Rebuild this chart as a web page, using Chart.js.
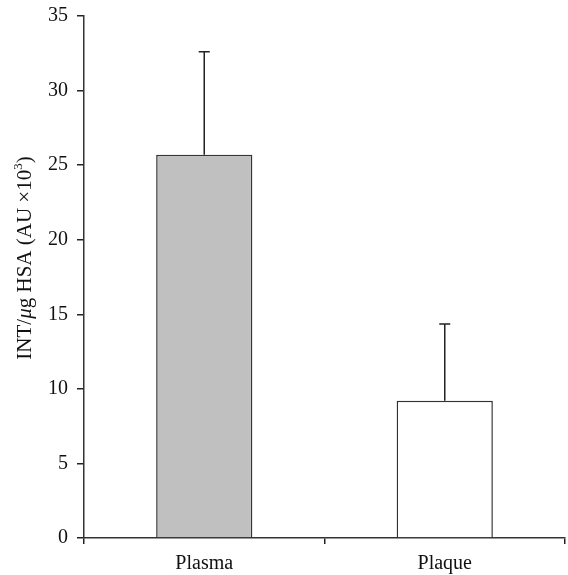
<!DOCTYPE html>
<html>
<head>
<meta charset="utf-8">
<script src="https://cdn.jsdelivr.net/npm/chart.js@4"></script>
<style>
html,body{margin:0;padding:0;background:#fff;}
#wrap{width:568px;height:575px;position:relative;}
</style>
</head>
<body>
<div id="wrap"><canvas id="c" width="568" height="575"></canvas></div>
<script>
const categories = ["Plasma", "Plaque"];
const meanValues = [25.7, 9.2];
const errorUpper = [6.9, 5.15];
const barColors = ["#c0c0c0", "#ffffff"];
const yTicks = [0, 5, 10, 15, 20, 25, 30, 35];

const FONT = "'Liberation Serif', 'DejaVu Serif', serif";

const errorBarPlugin = {
  id: 'errorBars',
  afterDatasetsDraw(chart) {
    const ctx = chart.ctx;
    const meta = chart.getDatasetMeta(0);
    const y = chart.scales.y;
    ctx.save();
    ctx.strokeStyle = '#222';
    ctx.lineWidth = 1.5;
    meta.data.forEach((bar, i) => {
      const x = bar.x;
      const y0 = y.getPixelForValue(meanValues[i]);
      const y1 = y.getPixelForValue(meanValues[i] + errorUpper[i]);
      ctx.beginPath();
      ctx.moveTo(x, y0);
      ctx.lineTo(x, y1);
      ctx.moveTo(x - 5.5, y1);
      ctx.lineTo(x + 5.5, y1);
      ctx.stroke();
    });
    ctx.restore();
  }
};

const yTitlePlugin = {
  id: 'yTitle',
  afterDraw(chart) {
    const ctx = chart.ctx;
    const parts = [
      {t: 'INT/', f: '21px ' + FONT, dy: 0},
      {t: 'μ', f: 'italic 21px ' + FONT, dy: 0},
      {t: 'g HSA (AU ×10', f: '21px ' + FONT, dy: 0},
      {t: '3', f: '13px ' + FONT, dy: -9},
      {t: ')', f: '21px ' + FONT, dy: 0}
    ];
    ctx.save();
    let total = 0;
    parts.forEach(p => { ctx.font = p.f; p.w = ctx.measureText(p.t).width; total += p.w; });
    ctx.translate(31, 258);
    ctx.rotate(-Math.PI / 2);
    ctx.fillStyle = '#111';
    ctx.textBaseline = 'alphabetic';
    let x = -total / 2;
    parts.forEach(p => { ctx.font = p.f; ctx.fillText(p.t, x, p.dy); x += p.w; });
    ctx.restore();
  }
};

new Chart(document.getElementById('c'), {
  type: 'bar',
  data: {
    labels: categories,
    datasets: [{
      data: meanValues,
      backgroundColor: barColors,
      borderColor: '#333',
      borderWidth: 1.5,
      barPercentage: 0.4,
      categoryPercentage: 1.0
    }]
  },
  options: {
    responsive: false,
    animation: false,
    devicePixelRatio: 1,
    layout: { padding: { top: 16, right: 3, left: 0, bottom: 0 } },
    plugins: { legend: { display: false }, tooltip: { enabled: false } },
    scales: {
      x: {
        offset: true,
        grid: { offset: true, drawOnChartArea: false, drawTicks: true, tickLength: 6, color: '#222', lineWidth: 1.5 },
        border: { display: true, color: '#333', width: 1.5 },
        ticks: { color: '#111', font: { family: FONT, size: 20 }, padding: 8 },
        afterFit(s) { s.height = 37; s.paddingLeft = 0; s.paddingRight = 0; }
      },
      y: {
        min: 0, max: 35,
        afterBuildTicks(s) { s.ticks = yTicks.map(v => ({value: v})); },
        grid: { drawOnChartArea: false, drawTicks: true, tickLength: 7, color: '#222', lineWidth: 1.5 },
        border: { display: true, color: '#333', width: 1.5 },
        ticks: { color: '#111', font: { family: FONT, size: 20 }, padding: 9 },
        afterFit(s) { s.width = 84; s.paddingTop = 0; s.paddingBottom = 0; }
      }
    }
  },
  plugins: [errorBarPlugin, yTitlePlugin]
});
</script>
</body>
</html>
